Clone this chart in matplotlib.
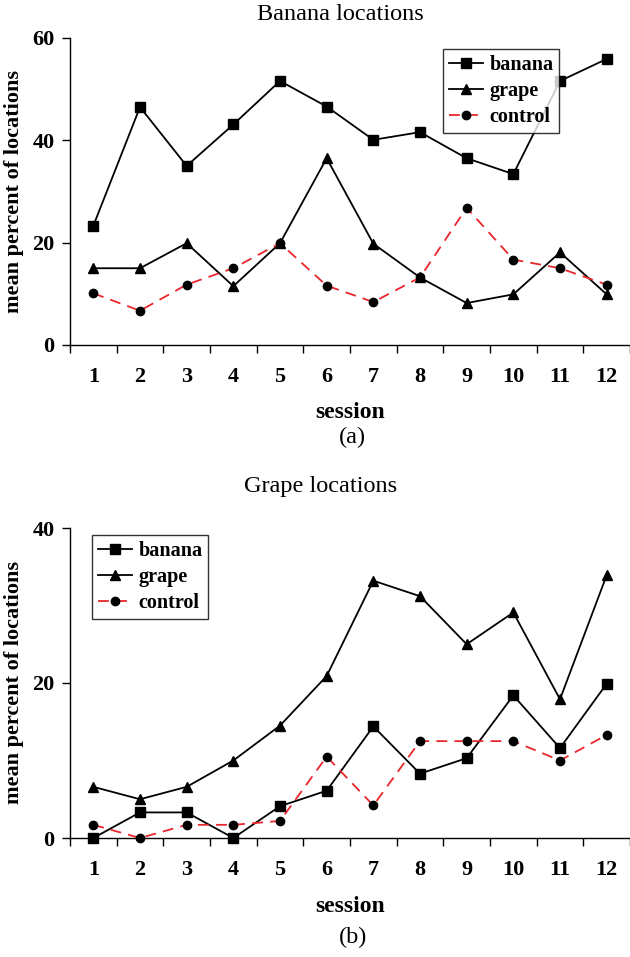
import matplotlib
matplotlib.use("Agg")
import matplotlib.pyplot as plt

plt.rcParams["font.family"] = ["Liberation Serif", "DejaVu Serif"]

sessions = list(range(1, 13))

# (a) banana locations
a_banana = [23.3, 46.5, 35.0, 43.1, 51.6, 46.6, 40.1, 41.6, 36.5, 33.4, 51.6, 55.9]
a_grape = [15.0, 15.0, 19.9, 11.5, 19.9, 36.5, 19.8, 13.2, 8.2, 9.9, 18.1, 9.9]
a_control = [10.1, 6.7, 11.8, 15.0, 19.9, 11.6, 8.4, 13.2, 26.8, 16.7, 15.0, 11.8]

# (b) grape locations
b_banana = [0.0, 3.3, 3.3, 0.0, 4.1, 6.1, 14.4, 8.3, 10.3, 18.4, 11.6, 19.9]
b_grape = [6.6, 5.0, 6.6, 10.0, 14.5, 20.9, 33.2, 31.2, 25.0, 29.1, 17.9, 33.9]
b_control = [1.7, 0.0, 1.7, 1.7, 2.2, 10.5, 4.2, 12.5, 12.5, 12.5, 10.0, 13.3]

W, H = 630, 957
fig = plt.figure(figsize=(W / 100, H / 100), dpi=100)


def panel(rect, ban, gra, con, ymax, yticks):
    ax = fig.add_axes(rect)
    ax.plot(sessions, ban, "-", color="black", lw=1.3, marker="s", ms=6.5,
            clip_on=False, label="banana")
    ax.plot(sessions, gra, "-", color="black", lw=1.3, marker="^", ms=7,
            clip_on=False, label="grape")
    ax.plot(sessions, con, "--", color="#e8262b", lw=1.3, marker="o", ms=6,
            mfc="black", mec="black", dashes=(6, 4), clip_on=False,
            label="control")
    ax.set_xlim(0.5, 12.5)
    ax.set_ylim(0, ymax)
    ax.set_yticks(yticks)
    ax.set_xticks([s - 0.5 for s in sessions] + [12.5])
    ax.set_xticklabels([])
    ax.set_xticks(sessions, minor=True)
    ax.set_xticklabels([str(s) for s in sessions], minor=True)
    ax.tick_params(axis="x", which="major", length=6, width=1, direction="out")
    ax.tick_params(axis="x", which="minor", length=0, pad=16, labelsize=16)
    ax.tick_params(axis="y", length=6, width=1, direction="out", labelsize=16,
                   pad=5)
    for lab in ax.get_xticklabels(minor=True) + ax.get_yticklabels():
        lab.set_fontweight("bold")
    for s in ("top", "right"):
        ax.spines[s].set_visible(False)
    for s in ("left", "bottom"):
        ax.spines[s].set_linewidth(1)
    ax.set_ylabel("mean percent of locations", fontsize=16, fontweight="bold")
    ax.yaxis.set_label_coords(-46 / 560, 0.5)
    ax.set_xlabel("session", fontsize=17, fontweight="bold", labelpad=11)
    leg = ax.legend(loc="upper left",
                    prop={"weight": "bold", "size": 14.5},
                    frameon=True, fancybox=False, edgecolor="black",
                    handlelength=1.7, handletextpad=0.3, labelspacing=0.3,
                    borderpad=0.3, borderaxespad=0)
    leg.get_frame().set_linewidth(1)
    return ax


ax1 = panel([70 / W, 1 - 345 / H, 560 / W, 307 / H],
            a_banana, a_grape, a_control, 60, [0, 20, 40, 60])
ax1.get_legend().set_bbox_to_anchor((443 / W, 1 - 49 / H), transform=fig.transFigure)

ax2 = panel([70 / W, 1 - 838 / H, 560 / W, 310 / H],
            b_banana, b_grape, b_control, 40, [0, 20, 40])
ax2.get_legend().set_bbox_to_anchor((92 / W, 1 - 535 / H), transform=fig.transFigure)

fig.text(340 / W, 1 - 15 / H, "Banana locations", ha="center", va="center",
         fontsize=17.5)
fig.text(352 / W, 1 - 437 / H, "(a)", ha="center", va="center", fontsize=17.5)
fig.text(321 / W, 1 - 487 / H, "Grape locations", ha="center", va="center",
         fontsize=17.5)
fig.text(353 / W, 1 - 937 / H, "(b)", ha="center", va="center", fontsize=17.5)

fig.savefig("out.png", dpi=100)
